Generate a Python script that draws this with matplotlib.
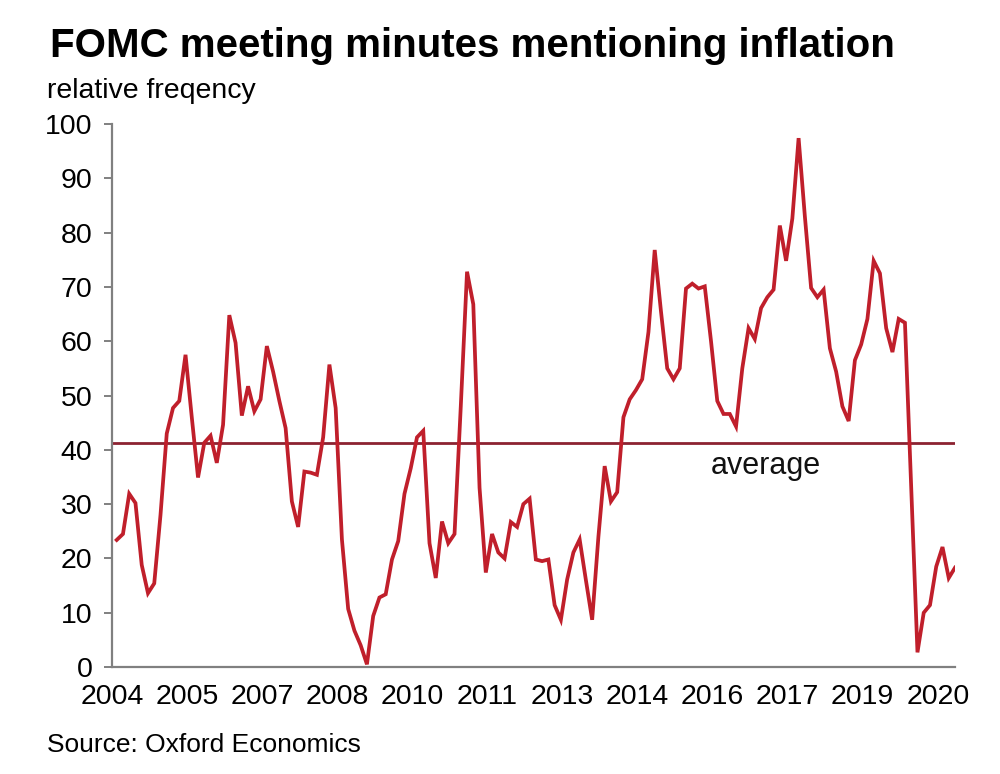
import numpy as np
import matplotlib
matplotlib.use("Agg")
import matplotlib.pyplot as plt
from matplotlib import font_manager

plt.rcParams['font.family'] = ['Liberation Sans', 'DejaVu Sans']

# relative frequency of "inflation" in FOMC minutes, one value per meeting
freq = [23.4, 24.5, 31.9, 30.2, 18.8, 13.6, 15.4, 28.0, 43.0, 47.7,
        49.0, 57.5, 46.0, 34.9, 41.3, 42.6, 37.6, 44.6, 64.8, 59.7,
        46.3, 51.7, 47.1, 49.3, 59.1, 54.4, 49.0, 44.0, 30.5, 25.8,
        36.0, 35.8, 35.4, 42.3, 55.7, 47.7, 23.5, 10.7, 6.7, 4.0,
        0.5, 9.4, 12.8, 13.4, 19.8, 23.2, 31.9, 36.6, 42.3, 43.5,
        22.8, 16.4, 26.8, 22.8, 24.5, 48.0, 72.8, 66.8, 33.0, 17.4,
        24.5, 21.1, 20.0, 26.7, 25.8, 30.0, 31.0, 19.8, 19.5, 19.8,
        11.4, 8.7, 16.1, 21.1, 23.5, 16.0, 8.7, 24.0, 37.0, 30.5,
        32.2, 46.0, 49.3, 51.0, 53.0, 61.7, 76.8, 65.5, 55.0, 53.0,
        55.0, 69.7, 70.6, 69.7, 70.1, 60.0, 49.0, 46.6, 46.6, 44.3,
        55.0, 62.4, 60.4, 66.1, 68.1, 69.5, 81.3, 74.8, 82.6, 97.4,
        83.0, 69.8, 68.1, 69.5, 58.7, 54.4, 48.0, 45.3, 56.5, 59.4,
        64.1, 74.8, 72.5, 62.4, 58.0, 64.1, 63.4, 33.0, 2.7, 10.0,
        11.4, 18.5, 22.1, 16.4, 18.3]
average = 41.3
year_labels = ['2004', '2005', '2007', '2008', '2010', '2011',
               '2013', '2014', '2016', '2017', '2019', '2020']

# year labels are drawn narrow and tall in the original
names = {f.name for f in font_manager.fontManager.ttflist}
if 'Liberation Sans Narrow' in names:
    xfont, xsize = 'Liberation Sans Narrow', 24.5
else:
    xfont, xsize = 'Liberation Sans', 20.5

x = np.arange(len(freq))

fig = plt.figure(figsize=(10, 7.74), dpi=100)
ax = fig.add_axes([0.1117, 0.1382, 0.8433, 0.7016])

ax.axhline(average, color='#8C2231', lw=2.0, zorder=2)
ax.plot(x, freq, color='#C01F2B', lw=2.7, solid_joinstyle='miter', zorder=3)
ax.text(103.7, 37.0, 'average', fontsize=22, ha='center', va='center', color='#111111')

ax.set_xlim(-0.8, len(freq) - 1)
ax.set_ylim(0, 100)
ax.set_yticks(np.arange(0, 101, 10))
ax.set_xticks(np.arange(len(year_labels)) * 12 - 0.75)
ax.set_xticklabels(year_labels, family=[xfont, 'DejaVu Sans'], fontsize=xsize)

for side in ['top', 'right']:
    ax.spines[side].set_visible(False)
for side in ['left', 'bottom']:
    ax.spines[side].set_color('#808080')
    ax.spines[side].set_linewidth(1.6)

ax.tick_params(axis='y', direction='out', length=6, width=1.4, color='#808080',
               labelsize=20.5, pad=8)
ax.tick_params(axis='x', length=0, pad=12)

fig.text(0.05, 0.926, 'FOMC meeting minutes mentioning inflation',
         fontsize=29, fontweight='bold', ha='left', va='baseline')
fig.text(0.047, 0.873, 'relative freqency', fontsize=20.5, ha='left', va='baseline')
fig.text(0.047, 0.028, 'Source: Oxford Economics', fontsize=19, ha='left', va='baseline')

fig.savefig('out.png', dpi=100)
